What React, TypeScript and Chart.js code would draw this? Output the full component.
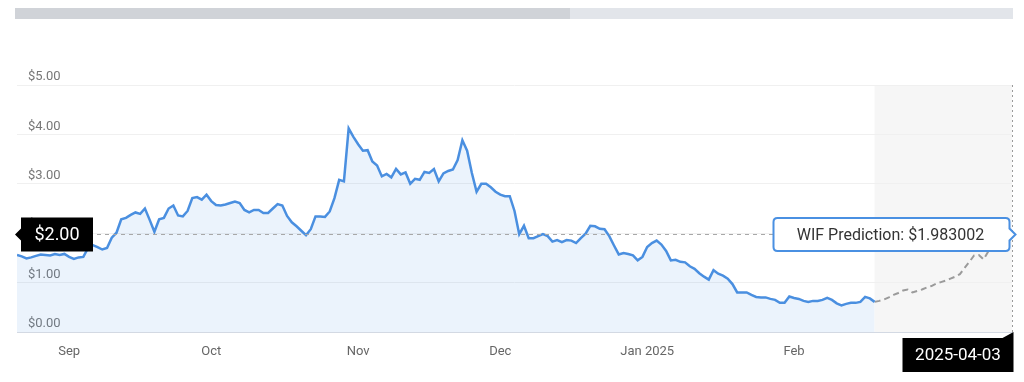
import React, { useEffect, useRef } from 'react';
import { Chart, registerables } from 'chart.js';

Chart.register(...registerables);

// Day offsets are counted from 2024-09-01 (day 0)
const historyStartDay = -11;
const historyPrices = [
  1.56, 1.53, 1.49, 1.51, 1.54, 1.57, 1.56, 1.55, 1.58, 1.56, 1.58,
  1.52, 1.48, 1.51, 1.52, 1.70, 1.76, 1.72, 1.67, 1.70, 1.91,
  2.01, 2.28, 2.31, 2.37, 2.42, 2.39, 2.50, 2.27, 2.03, 2.28,
  2.31, 2.50, 2.56, 2.36, 2.34, 2.45, 2.71, 2.73, 2.68, 2.78,
  2.65, 2.57, 2.56, 2.58, 2.61, 2.64, 2.61, 2.47, 2.42, 2.47,
  2.47, 2.41, 2.41, 2.50, 2.59, 2.56, 2.35, 2.22, 2.14, 2.05,
  1.96, 2.08, 2.34, 2.34, 2.33, 2.44, 2.71, 3.08, 3.05, 4.12,
  3.95, 3.80, 3.67, 3.68, 3.45, 3.37, 3.15, 3.20, 3.13, 3.30,
  3.19, 3.23, 3.00, 3.10, 3.08, 3.24, 3.22, 3.30, 3.05, 3.21,
  3.26, 3.29, 3.48, 3.88, 3.67, 3.22, 2.84, 3.00, 3.00, 2.93,
  2.84, 2.78, 2.75, 2.75, 2.45, 1.98, 2.15, 1.90, 1.90, 1.94,
  1.98, 1.94, 1.83, 1.86, 1.82, 1.86, 1.85, 1.80, 1.90, 1.99,
  2.15, 2.14, 2.09, 2.08, 1.94, 1.75, 1.57, 1.60, 1.58, 1.55,
  1.45, 1.52, 1.72, 1.80, 1.85, 1.77, 1.64, 1.45, 1.46, 1.42,
  1.41, 1.33, 1.28, 1.19, 1.12, 1.06, 1.25, 1.18, 1.14, 1.08,
  0.97, 0.80, 0.80, 0.80, 0.75, 0.71, 0.70, 0.70, 0.67, 0.65,
  0.59, 0.59, 0.72, 0.69, 0.67, 0.63, 0.61, 0.63, 0.63, 0.65,
  0.69, 0.65, 0.58, 0.54, 0.57, 0.59, 0.59, 0.61, 0.71, 0.68,
  0.61,
];
const forecastStartDay = 170;
const forecastPrices = [
  0.61, 0.63, 0.66, 0.70, 0.75, 0.79, 0.84, 0.86, 0.80, 0.83,
  0.86, 0.90, 0.93, 0.98, 1.01, 1.04, 1.08, 1.12, 1.17, 1.30,
  1.42, 1.55, 1.56, 1.47, 1.63, 1.76, 1.85, 1.91, 1.95, 1.983002,
];
const axisMinDay = -11;
const axisMaxDay = 199;
const monthTickDays = [0, 30, 61, 91, 122, 153];
const monthTickLabels = ['Sep', 'Oct', 'Nov', 'Dec', 'Jan 2025', 'Feb'];
const priceTickValues = [0, 1, 2, 3, 4, 5];
const predictionValue = 1.983002;
const predictionLabel = 'WIF Prediction: $1.983002';
const predictionDateLabel = '2025-04-03';
const currentTagLabel = '$2.00';

const FONT = 'Roboto, "Noto Sans", sans-serif';

const overlayPlugin = {
  id: 'overlay',
  beforeDraw(chart: any) {
    const { ctx, chartArea, scales } = chart;
    const x0 = scales.x.getPixelForValue(forecastStartDay);
    ctx.save();
    ctx.fillStyle = '#f6f6f6';
    ctx.fillRect(x0, chartArea.top, chartArea.right - x0, chartArea.bottom - chartArea.top);
    ctx.restore();
  },
  afterDatasetsDraw(chart: any) {
    const { ctx, chartArea, scales } = chart;
    const yP = Math.round(scales.y.getPixelForValue(predictionValue)) + 0.5;
    const xEnd = Math.round(scales.x.getPixelForValue(axisMaxDay)) + 0.5;
    ctx.save();
    // horizontal dashed line
    ctx.strokeStyle = '#a8a8a8';
    ctx.lineWidth = 1;
    ctx.setLineDash([4, 4]);
    ctx.beginPath();
    ctx.moveTo(chartArea.left, yP);
    ctx.lineTo(xEnd, yP);
    ctx.stroke();
    // vertical dotted line
    ctx.setLineDash([2, 3]);
    ctx.strokeStyle = '#9a9a9a';
    ctx.beginPath();
    ctx.moveTo(xEnd, chartArea.top);
    ctx.lineTo(xEnd, chartArea.bottom + 2);
    ctx.stroke();
    ctx.setLineDash([]);

    // left black tag
    const tl = chartArea.left + 4;
    const tw = 72;
    const th = 34;
    const tt = yP - th / 2;
    ctx.fillStyle = '#000';
    ctx.beginPath();
    ctx.moveTo(tl, tt);
    ctx.lineTo(tl + tw, tt);
    ctx.lineTo(tl + tw, tt + th);
    ctx.lineTo(tl, tt + th);
    ctx.lineTo(tl, yP + 6);
    ctx.lineTo(tl - 6, yP);
    ctx.lineTo(tl, yP - 6);
    ctx.closePath();
    ctx.fill();
    ctx.fillStyle = '#fff';
    ctx.font = '18px ' + FONT;
    ctx.textAlign = 'center';
    ctx.textBaseline = 'middle';
    ctx.fillText(currentTagLabel, tl + tw / 2, yP + 1);

    // prediction box
    const bR = xEnd - 3;
    const bW = 236;
    const bL = bR - bW;
    const bH = 33;
    const bT = yP - bH / 2;
    const r = 4;
    ctx.beginPath();
    ctx.moveTo(bL + r, bT);
    ctx.lineTo(bR - r, bT);
    ctx.quadraticCurveTo(bR, bT, bR, bT + r);
    ctx.lineTo(bR, yP - 6);
    ctx.lineTo(xEnd + 3, yP);
    ctx.lineTo(bR, yP + 6);
    ctx.lineTo(bR, bT + bH - r);
    ctx.quadraticCurveTo(bR, bT + bH, bR - r, bT + bH);
    ctx.lineTo(bL + r, bT + bH);
    ctx.quadraticCurveTo(bL, bT + bH, bL, bT + bH - r);
    ctx.lineTo(bL, bT + r);
    ctx.quadraticCurveTo(bL, bT, bL + r, bT);
    ctx.closePath();
    ctx.fillStyle = '#fff';
    ctx.fill();
    ctx.strokeStyle = '#4a90e2';
    ctx.lineWidth = 2;
    ctx.stroke();
    ctx.fillStyle = '#333';
    ctx.font = '16px ' + FONT;
    ctx.fillText(predictionLabel, bL + bW / 2 - 1, yP + 1);

    // date tag
    const dR = xEnd + 1;
    const dW = 111;
    const dT = chartArea.bottom + 6;
    const dH = 34;
    ctx.fillStyle = '#000';
    ctx.beginPath();
    ctx.moveTo(dR - dW, dT);
    ctx.lineTo(dR - 11, dT);
    ctx.lineTo(dR, dT - 6);
    ctx.lineTo(dR, dT + dH);
    ctx.lineTo(dR - dW, dT + dH);
    ctx.closePath();
    ctx.fill();
    ctx.fillStyle = '#fff';
    ctx.font = '17px ' + FONT;
    ctx.fillText(predictionDateLabel, dR - dW / 2, dT + dH / 2 + 1);
    ctx.restore();
  },
};

export default function App() {
  const ref = useRef<HTMLCanvasElement | null>(null);

  useEffect(() => {
    if (!ref.current) return;
    Chart.defaults.font.family = FONT;
    const history = historyPrices.map((v, i) => ({ x: historyStartDay + i, y: v }));
    const forecast = forecastPrices.map((v, i) => ({ x: forecastStartDay + i, y: v }));
    const chart = new Chart(ref.current, {
      type: 'line',
      data: {
        datasets: [
          {
            data: history,
            borderColor: '#4a8fe0',
            borderWidth: 2.5,
            backgroundColor: 'rgba(74, 144, 226, 0.11)',
            fill: 'origin',
            pointRadius: 0,
            tension: 0,
          },
          {
            data: forecast,
            borderColor: '#9b9b9b',
            borderWidth: 2,
            borderDash: [6, 4],
            fill: false,
            pointRadius: 0,
            tension: 0,
          },
        ],
      },
      options: {
        animation: false,
        responsive: false,
        devicePixelRatio: 1,
        layout: { padding: { left: 17, right: 12, top: 85, bottom: 0 } },
        plugins: { legend: { display: false }, tooltip: { enabled: false } },
        scales: {
          x: {
            type: 'linear',
            min: axisMinDay,
            max: axisMaxDay,
            grid: { display: false, drawTicks: false },
            border: { display: true, color: '#d3d9e3', width: 1 },
            afterBuildTicks: (scale: any) => {
              scale.ticks = monthTickDays.map((v) => ({ value: v }));
            },
            afterFit: (scale: any) => {
              scale.height = 50;
            },
            ticks: {
              autoSkip: false,
              maxRotation: 0,
              padding: 12,
              color: '#666',
              font: { size: 13, family: FONT },
              callback: (value: any) => {
                const i = monthTickDays.indexOf(Number(value));
                return i >= 0 ? monthTickLabels[i] : '';
              },
            },
          },
          y: {
            type: 'linear',
            min: 0,
            max: 5,
            grid: { color: '#f0f0f0', drawTicks: false },
            border: { display: false },
            afterBuildTicks: (scale: any) => {
              scale.ticks = priceTickValues.map((v) => ({ value: v }));
            },
            afterFit: (scale: any) => {
              scale.width = 0;
            },
            ticks: {
              mirror: true,
              padding: 11,
              labelOffset: -8,
              color: '#777',
              font: { size: 13, family: FONT },
              callback: (value: any) => '$' + Number(value).toFixed(2),
            },
          },
        },
      },
      plugins: [overlayPlugin],
    });
    return () => chart.destroy();
  }, []);

  return (
    <div style={{ position: 'fixed', left: 0, top: 0, width: 1024, height: 382, background: '#fff' }}>
      <div style={{ position: 'absolute', left: 15, top: 8, width: 555, height: 11, background: '#d0d3d8' }} />
      <div style={{ position: 'absolute', left: 570, top: 8, width: 443, height: 11, background: '#e2e5ea' }} />
      <canvas ref={ref} width={1024} height={382} style={{ position: 'absolute', left: 0, top: 0, display: 'block' }} />
    </div>
  );
}
